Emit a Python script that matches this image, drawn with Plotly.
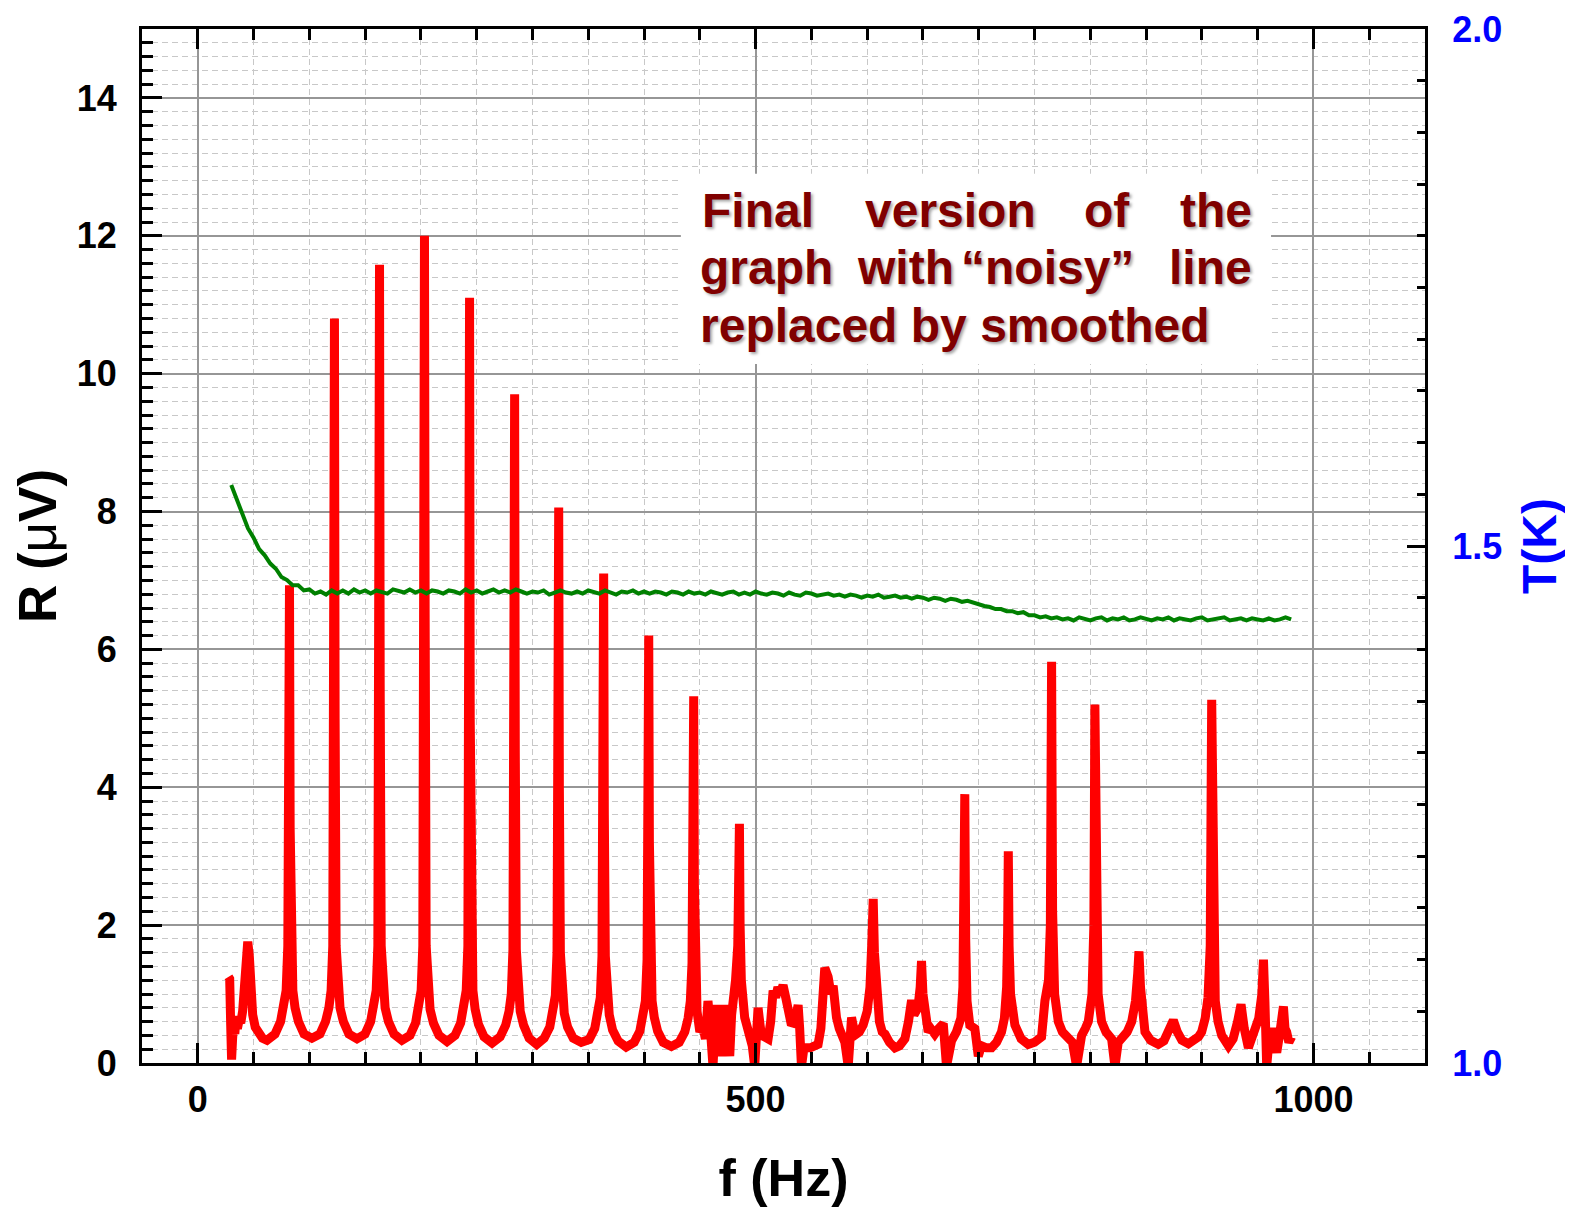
"""
R(f) resonance spectrum with sample temperature on a second axis.
"""

import plotly.graph_objects as go

# ---- data ----
# lock-in amplitude R (uV) versus frequency f (Hz)
freq_hz = [
    27.5, 28.6, 29.5, 30.3, 31.2, 32.2, 33.2, 34.3, 35.5, 37, 38.5, 40.2, 42, 43.5, 44.8, 46.2, 47.6, 49.2,
    51.5, 54.5, 58, 62, 66,
    69.2, 74.2, 77.2, 79.2, 80.7, 81.6, 82.2, 82.8, 83.7, 85.2, 87.2, 90.2, 95.2, 102.3,
    109.5, 114.5, 117.5, 119.5, 121, 121.9, 122.5, 123.1, 124, 125.5, 127.5, 130.5, 135.5, 142.7,
    149.9, 154.9, 157.9, 159.9, 161.4, 162.3, 162.9, 163.5, 164.4, 165.9, 167.9, 170.9, 175.9, 183,
    190.2, 195.2, 198.2, 200.2, 201.7, 202.6, 203.2, 203.8, 204.7, 206.2, 208.2, 211.2, 216.2, 223.4,
    230.6, 235.6, 238.6, 240.6, 242.1, 243.0, 243.6, 244.2, 245.1, 246.6, 248.6, 251.6, 256.6, 263.8,
    271, 276, 279, 281, 282.5, 283.4, 284.0, 284.6, 285.5, 287, 289, 292, 297, 303.8,
    310.5, 315.5, 318.5, 320.5, 322, 322.9, 323.5, 324.1, 325, 326.5, 328.5, 331.5, 336.5, 343.7,
    350.8, 355.8, 358.8, 360.8, 362.3, 363.2, 363.8, 364.4, 365.3, 366.8, 368.8, 371.8, 376.8, 384,
    391.2, 396.2, 399.2, 401.2, 402.7, 403.6, 404.2, 404.8, 405.7, 407.2, 409.2, 412.2, 417.2, 424.5,
    431.5, 436.5, 439.5, 441.5, 443, 443.9, 444.5, 445.1, 446, 447.5, 450, 452.5, 455, 457.3, 459,
    461.8, 463.5, 464.8, 467, 469.3, 471, 472.3, 474.5, 476.8, 478.5, 479.8, 482, 484, 484.9, 485.5,
    486.1, 487.2, 490.2, 492.5, 494.7, 497, 499.2, 500.5, 502.2, 504, 505.2, 508, 511.2, 513.5, 515.7,
    518, 520, 522, 524.6, 527, 529.1, 530.5, 532.1, 535, 538.1, 539.5, 541.1, 543, 545.6, 549, 552,
    556, 558.5, 560.5, 562, 565, 567.5, 569.5, 571, 572.5, 575, 577, 580, 583, 584.5, 586, 588, 590.4,
    593, 596.4, 600, 602.5, 604.3, 605.4, 606.5, 608.4, 611, 613.5, 615.9, 620, 624.9, 629, 633.8,
    637, 639.8, 642, 645.5, 647.5, 648.7, 650, 652, 654.7, 657, 660.6, 664, 668.2, 671.1, 675.6, 680,
    684, 685.8, 686.8, 687.5, 688.3, 689.5, 692, 696.5, 699.6, 702.5, 707, 711.5, 716, 720.4, 723,
    725, 725.9, 726.5, 727.2, 728.5, 732.4, 738, 744.4, 750, 756.3, 759.3, 762.5, 764.2, 765.3, 766.2,
    768, 771.3, 775, 780.3, 784, 787.7, 792.2, 795.5, 798.2, 801.5, 803.2, 804.1, 805, 807, 810.1,
    814, 819.1, 822.1, 825, 828.1, 833, 837.1, 840.5, 842.5, 843.6, 845, 847, 849, 854, 861, 866,
    870, 874.4, 878, 882, 887.9, 893, 897, 899.8, 903, 905.5, 907.5, 908.8, 910, 912, 914.5, 917.8,
    923.8, 928, 932, 935.1, 938, 941.7, 944.5, 947.6, 951, 953.8, 955.2, 956.5, 958.1, 960, 962.6,
    965, 967.1, 970, 973.1, 974.5, 976, 978, 980.5,
]
r_uv = [
    1.25, 1.22, 0.55, 0.05, 0.35, 0.6, 0.42, 0.68, 0.5, 0.62, 0.58, 0.75, 1.05, 1.55, 1.76, 1.55, 1.0, 0.7,
    0.52, 0.42, 0.36, 0.33, 0.36,
    0.42, 0.6, 0.8, 1.05, 1.7, 3.6, 6.93, 3.4, 1.7, 1.05, 0.8, 0.6, 0.42, 0.36,
    0.42, 0.6, 0.8, 1.05, 1.7, 5.5, 10.8, 5.0, 1.7, 1.05, 0.8, 0.6, 0.42, 0.35,
    0.42, 0.6, 0.8, 1.05, 1.7, 9.4, 11.58, 5.5, 1.7, 1.05, 0.8, 0.6, 0.42, 0.33,
    0.4, 0.58, 0.78, 1.05, 1.7, 6.0, 12.0, 6.5, 1.7, 1.05, 0.78, 0.58, 0.4, 0.31,
    0.4, 0.58, 0.78, 1.05, 1.7, 5.5, 11.1, 5.0, 1.7, 1.05, 0.78, 0.56, 0.38, 0.29,
    0.38, 0.55, 0.75, 1.0, 1.65, 5.0, 9.7, 4.5, 1.65, 1.0, 0.75, 0.55, 0.36, 0.27,
    0.36, 0.52, 0.72, 0.98, 1.6, 4.2, 8.06, 4.0, 1.6, 0.98, 0.72, 0.52, 0.36, 0.3,
    0.34, 0.5, 0.7, 0.95, 1.55, 3.8, 7.1, 3.6, 1.55, 0.95, 0.7, 0.48, 0.32, 0.23,
    0.3, 0.46, 0.66, 0.9, 1.5, 3.3, 6.2, 3.2, 1.5, 0.9, 0.66, 0.46, 0.3, 0.24,
    0.3, 0.45, 0.65, 0.9, 1.45, 2.9, 5.32, 2.6, 1.3, 0.75, 0.45, 0.55, 0.35, 0.9, 0.6,
    -0.05, 0.5, 0.84, 0.5, 0.1, 0.6, 0.84, 0.5, 0.1, 0.7, 1.13, 1.2, 1.7, 2.4, 3.47,
    2.0, 1.2, 0.66, 0.55, 0.4, 0.25, -0.05, 0.5, 0.8, 0.55, 0.4, 0.38, 0.35, 0.6, 1.05,
    0.95, 1.1, 1.0, 1.13, 0.95, 0.8, 0.6, 0.55, 0.6, 0.84, 0.5, -0.05, 0.18, 0.22, 0.22, 0.25,
    0.27, 0.5, 1.3, 1.38, 1.25, 1.0, 1.12, 0.8, 0.66, 0.5, 0.4, 0.3, -0.05, 0.45, 0.66, 0.5, 0.42,
    0.45, 0.55, 0.75, 1.1, 1.8, 2.38, 1.6, 0.9, 0.6, 0.45, 0.42, 0.3, 0.22, 0.25, 0.35,
    0.6, 0.91, 0.7, 0.8, 1.1, 1.48, 1.0, 0.6, 0.45, 0.5, 0.42, 0.5, 0.57, -0.05, 0.32, 0.45,
    0.65, 1.1, 2.0, 3.9, 1.8, 0.9, 0.55, 0.5, 0.1, 0.25, 0.22, 0.22, 0.3, 0.45, 0.65,
    1.1, 1.9, 3.07, 1.7, 1.0, 0.55, 0.35, 0.27, 0.3, 0.38, 0.9, 1.2, 2.0, 5.82, 2.2,
    1.0, 0.6, 0.45, 0.35, 0.3, -0.05, 0.4, 0.5, 0.6, 1.0, 2.0, 5.2, 2.0, 1.0, 0.6,
    0.45, 0.35, -0.05, 0.3, 0.35, 0.45, 0.6, 0.9, 1.3, 1.62, 1.1, 0.6, 0.45, 0.33, 0.27, 0.32,
    0.45, 0.62, 0.45, 0.33, 0.28, 0.32, 0.38, 0.45, 0.65, 0.95, 1.7, 5.27, 1.7, 0.9, 0.6, 0.4,
    0.25, 0.35, 0.6, 0.85, 0.5, 0.22, 0.35, 0.5, 0.65, 1.0, 1.5, 0.9, -0.05, 0.3, 0.5,
    0.35, 0.15, 0.45, 0.82, 0.5, 0.45, 0.3, 0.38,
]

# sample temperature T (K), right axis, one reading every 5 Hz from 30 to 980 Hz
temp_freq_hz = list(range(30, 985, 5))
temp_k = [
    1.559, 1.545, 1.531, 1.517, 1.508, 1.497, 1.491, 1.483, 1.478, 1.470,
    1.467, 1.462, 1.462, 1.457, 1.458, 1.454, 1.456, 1.453, 1.457, 1.454,
    1.457, 1.454, 1.458, 1.455, 1.457, 1.454, 1.457, 1.455, 1.454, 1.458,
    1.456, 1.455, 1.458, 1.455, 1.457, 1.454, 1.457, 1.456, 1.454, 1.457,
    1.456, 1.454, 1.458, 1.455, 1.457, 1.454, 1.456, 1.458, 1.455, 1.457,
    1.455, 1.458, 1.456, 1.454, 1.456, 1.455, 1.457, 1.453, 1.455, 1.457,
    1.455, 1.454, 1.456, 1.454, 1.457, 1.455, 1.454, 1.457, 1.455, 1.453,
    1.456, 1.455, 1.457, 1.454, 1.456, 1.454, 1.456, 1.455, 1.453, 1.456,
    1.455, 1.453, 1.456, 1.454, 1.455, 1.453, 1.456, 1.454, 1.453, 1.455,
    1.456, 1.453, 1.455, 1.453, 1.456, 1.454, 1.453, 1.455, 1.454, 1.452,
    1.455, 1.453, 1.452, 1.455, 1.454, 1.452, 1.453, 1.454, 1.452, 1.453,
    1.451, 1.453, 1.452, 1.450, 1.452, 1.451, 1.453, 1.450, 1.451, 1.452,
    1.450, 1.451, 1.449, 1.451, 1.450, 1.448, 1.450, 1.449, 1.447, 1.449,
    1.448, 1.446, 1.447, 1.445, 1.444, 1.442, 1.441, 1.439, 1.439, 1.437,
    1.437, 1.435, 1.436, 1.433, 1.433, 1.431, 1.432, 1.430, 1.431, 1.429,
    1.430, 1.428, 1.431, 1.429, 1.428, 1.430, 1.431, 1.428, 1.430, 1.429,
    1.431, 1.428, 1.429, 1.431, 1.429, 1.428, 1.430, 1.429, 1.431, 1.428,
    1.430, 1.429, 1.428, 1.430, 1.431, 1.428, 1.429, 1.430, 1.431, 1.428,
    1.429, 1.430, 1.428, 1.430, 1.429, 1.428, 1.430, 1.428, 1.429, 1.431,
    1.429,
]

FONT = 'Liberation Sans, Arial, sans-serif'
NOTE_RED = '#800000'

fig = go.Figure()

fig.add_trace(go.Scatter(
    x=freq_hz, y=r_uv, mode='lines', name='R',
    line=dict(color='#ff0000', width=9), yaxis='y'
))
# temperature drawn on top of the spectrum
fig.add_trace(go.Scatter(
    x=temp_freq_hz, y=temp_k, mode='lines', name='T',
    line=dict(color='#008000', width=4), yaxis='y2'
))

grid_major = dict(showgrid=True, gridcolor='#969696', gridwidth=1.5)
tick_font = dict(family=FONT, size=36, color='black', weight='bold')

fig.update_layout(
    width=1573, height=1208,
    # page body adds a few px of offset, margins compensate
    margin=dict(l=134, r=156, t=21, b=153),
    paper_bgcolor='white', plot_bgcolor='white',
    showlegend=False,
    font=dict(family=FONT),
    xaxis=dict(
        range=[-50, 1100], tick0=0, dtick=500, automargin=False,
        ticks='inside', ticklen=20, tickwidth=3, tickcolor='black',
        showline=True, linewidth=3, linecolor='black', mirror='ticks',
        zeroline=False, tickfont=tick_font, ticklabelstandoff=3,
        title=dict(text='<b>f (Hz)</b>', font=dict(family=FONT, size=52, color='black'), standoff=41),
        minor=dict(tick0=0, dtick=50, ticks='inside', ticklen=11, tickwidth=2.5, tickcolor='black',
                   showgrid=True, gridcolor='#c8c8c8', griddash='6px,4px', gridwidth=1.3),
        **grid_major
    ),
    yaxis=dict(
        range=[0, 15], tick0=0, dtick=2, automargin=False,
        ticks='inside', ticklen=20, tickwidth=3, tickcolor='black',
        showline=True, linewidth=3, linecolor='black',
        zeroline=False, tickfont=tick_font, ticklabelstandoff=15,
        title=dict(text="<b>R (<span style='font-weight:normal'>μ</span>V)</b>",
                   font=dict(family=FONT, size=53, color='black'), standoff=8),
        minor=dict(tick0=0, dtick=0.2, ticks='inside', ticklen=11, tickwidth=2.5, tickcolor='black',
                   showgrid=True, gridcolor='#c8c8c8', griddash='6px,4px', gridwidth=1.3),
        **grid_major
    ),
    yaxis2=dict(
        range=[1, 2], tick0=1, dtick=0.5, tickformat='.1f', automargin=False,
        overlaying='y', side='right', showgrid=False, zeroline=False,
        ticks='inside', ticklen=18, tickwidth=3, tickcolor='black',
        showline=True, linewidth=3, linecolor='black',
        tickfont=dict(family=FONT, size=36, color='#0000ff', weight='bold'), ticklabelstandoff=17,
        title=dict(text='<b>T(K)</b>', font=dict(family=FONT, size=48, color='#0000ff'), standoff=22),
        minor=dict(tick0=1, dtick=0.05, ticks='inside', ticklen=8, tickwidth=2.5, tickcolor='black'),
    ),
)

# white panel behind the note
fig.add_shape(type='rect', xref='x', yref='y', x0=433, x1=962, y0=10.14, y1=12.9,
              fillcolor='white', line=dict(width=0), layer='between')

# note text, one annotation per word to get the justified look
note_font = dict(family=FONT, size=48, color=NOTE_RED, weight='bold',
                 shadow='2px 2px 3px rgba(0,0,0,0.35)')
note_words = [
    ('Final', 450, 12.37, 'left'), ('version', 596, 12.37, 'left'),
    ('of', 793, 12.37, 'left'), ('the', 947, 12.37, 'right'),
    ('graph', 448, 11.54, 'left'), ('with', 589, 11.54, 'left'),
    ('“noisy”', 682, 11.54, 'left'), ('line', 947, 11.54, 'right'),
    ('replaced by smoothed', 448, 10.7, 'left'),
]
for word, wx, wy, anchor in note_words:
    fig.add_annotation(x=wx, y=wy, xref='x', yref='y', text=word, showarrow=False,
                       xanchor=anchor, yanchor='middle', font=note_font)

fig.write_html("out.html")
